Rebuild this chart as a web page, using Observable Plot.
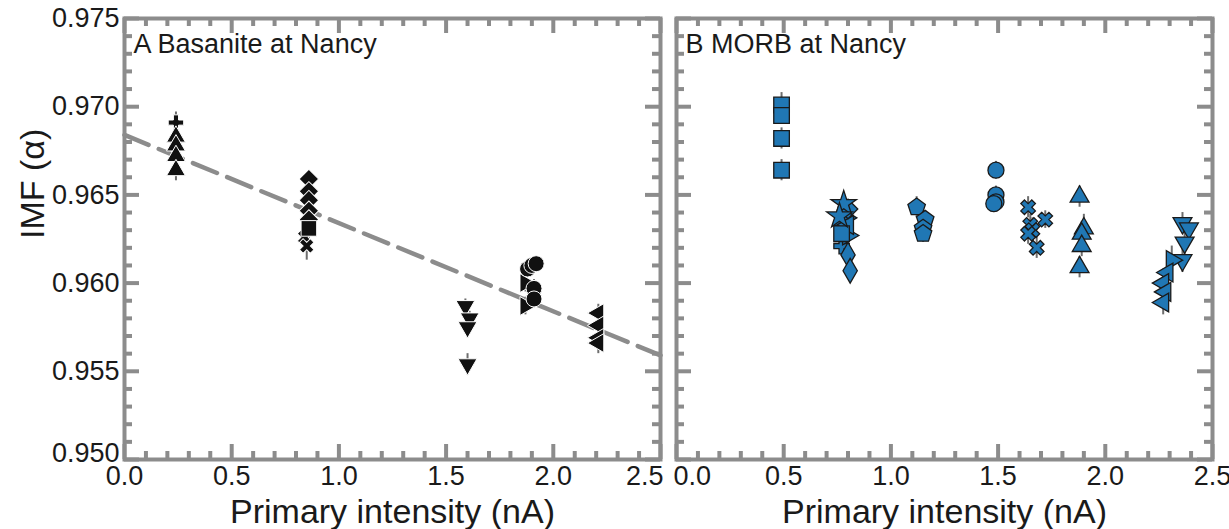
<!DOCTYPE html>
<html><head><meta charset="utf-8">
<script src="https://cdn.jsdelivr.net/npm/d3@7"></script>
<script src="https://cdn.jsdelivr.net/npm/@observablehq/plot@0.6"></script>
<style>body{margin:0;background:#fff;}</style>
</head><body><div id="chart"></div>
<script>
// ---------- data ----------
const panels = ["A", "B"];
const panelTitles = ["A Basanite at Nancy", "B MORB at Nancy"];
const xLabel = "Primary intensity (nA)";
const yLabel = "IMF (\u03b1)";
const xMajorTicks = [0, 0.5, 1.0, 1.5, 2.0, 2.5];
const xMinorTicks = [0.1, 0.2, 0.3, 0.4, 0.6, 0.7, 0.8, 0.9, 1.1, 1.2, 1.3, 1.4, 1.6, 1.7, 1.8, 1.9, 2.1, 2.2, 2.3, 2.4];
const yMajorTicks = [0.950, 0.955, 0.960, 0.965, 0.970, 0.975];
const yMinorTicks = [0.951, 0.952, 0.953, 0.954, 0.956, 0.957, 0.958, 0.959, 0.961, 0.962, 0.963, 0.964, 0.966, 0.967, 0.968, 0.969, 0.971, 0.972, 0.973, 0.974];

// Panel A: basanite
const aX = [0.24, 0.24, 0.24, 0.24, 0.24,
            0.86, 0.86, 0.86, 0.86, 0.86, 0.86, 0.84, 0.85,
            1.59, 1.61, 1.60, 1.60,
            1.87, 1.87, 1.88, 1.90, 1.92, 1.91, 1.91,
            2.21, 2.21, 2.21, 2.21];
const aY = [0.9691, 0.9683, 0.9678, 0.9672, 0.9664,
            0.9659, 0.9652, 0.9647, 0.9641, 0.9636, 0.9631, 0.9626, 0.9621,
            0.9587, 0.9580, 0.9575, 0.9554,
            0.9600, 0.9587, 0.9608, 0.9610, 0.9611, 0.9597, 0.9591,
            0.9583, 0.9576, 0.9569, 0.9566];
const aErr = [0.0006, 0.0005, 0.0004, 0.0005, 0.0006,
              0.0004, 0.0004, 0.0005, 0.0005, 0.0005, 0.0006, 0.0005, 0.0008,
              0.0004, 0.0004, 0.0006, 0.0006,
              0.0005, 0.0005, 0.0004, 0.0004, 0.0004, 0.0005, 0.0005,
              0.0005, 0.0005, 0.0005, 0.0006];
const aShape = ["plus", "triangle", "triangle", "triangle", "triangle",
                "diamond", "diamond", "diamond", "diamond", "diamond", "square", "times", "times",
                "tridown", "tridown", "tridown", "tridown",
                "triright", "triright", "circle", "circle", "circle", "circle", "circle",
                "trileft", "trileft", "trileft", "trileft"];

// Panel B: MORB
const bX = [0.49, 0.49, 0.49, 0.49,
            0.78, 0.80, 0.76, 0.79, 0.77, 0.80, 0.77, 0.80, 0.77, 0.80, 0.81,
            1.12, 1.16, 1.15, 1.15,
            1.49, 1.49, 1.49, 1.48,
            1.64, 1.72, 1.65, 1.66, 1.64, 1.68,
            1.88, 1.90, 1.89, 1.89, 1.88,
            2.31, 2.29, 2.27, 2.28, 2.27, 2.36, 2.39, 2.37, 2.36];
const bY = [0.9701, 0.9695, 0.9682, 0.9664,
            0.9645, 0.9642, 0.9638, 0.9637, 0.9634, 0.9633, 0.9628, 0.9627, 0.9621, 0.9616, 0.9607,
            0.9643, 0.9636, 0.9631, 0.9628,
            0.9664, 0.9650, 0.9646, 0.9645,
            0.9643, 0.9636, 0.9633, 0.9630, 0.9628, 0.9620,
            0.9649, 0.9631, 0.9628, 0.9621, 0.9609,
            0.9613, 0.9606, 0.9600, 0.9595, 0.9589, 0.9634, 0.9631, 0.9623, 0.9613];
const bErr = [0.0007, 0.0005, 0.0006, 0.0006,
              0.0005, 0.0005, 0.0005, 0.0005, 0.0005, 0.0005, 0.0005, 0.0005, 0.0005, 0.0005, 0.0005,
              0.0006, 0.0005, 0.0005, 0.0005,
              0.0005, 0.0005, 0.0005, 0.0005,
              0.0006, 0.0005, 0.0006, 0.0007, 0.0006, 0.0006,
              0.0006, 0.0008, 0.0007, 0.0006, 0.0006,
              0.0008, 0.0007, 0.0008, 0.0007, 0.0007, 0.0006, 0.0006, 0.0007, 0.0007];
const bShape = ["square", "square", "square", "square",
                "star", "diamond", "star", "triright", "plus", "trileft", "square", "triright", "plus", "rhombus", "rhombus",
                "pentagon", "pentagon", "pentagon", "pentagon",
                "circle", "circle", "circle", "circle",
                "times", "times", "times", "times", "times", "times",
                "triangle", "triangle", "triangle", "triangle", "triangle",
                "triright", "trileft", "trileft", "trileft", "trileft", "tridown", "tridown", "tridown", "tridown"];

// Fit line in panel A
const fitX = [0, 2.5];
const fitY = [0.9684, 0.9559];

// ---------- build ----------
const pentagon = {
  draw(ctx, size) {
    const R = Math.sqrt(size / (2.5 * Math.sin(2 * Math.PI / 5)));
    for (let i = 0; i < 5; i++) {
      const a = -Math.PI / 2 + i * 2 * Math.PI / 5;
      const px = R * Math.cos(a), py = R * Math.sin(a);
      if (i === 0) ctx.moveTo(px, py); else ctx.lineTo(px, py);
    }
    ctx.closePath();
  }
};
const SHAPES = {
  plus:     {symbol: "cross",    rotate: 0,   r: 6.5},
  times:    {symbol: "cross",    rotate: 45,  r: 6.5},
  triangle: {symbol: "triangle", rotate: 0,   r: 7},
  tridown:  {symbol: "triangle", rotate: 180, r: 7},
  triright: {symbol: "triangle", rotate: 90,  r: 7},
  trileft:  {symbol: "triangle", rotate: -90, r: 7},
  diamond:  {symbol: "square",   rotate: 45,  r: 7.8},
  rhombus:  {symbol: "diamond",  rotate: 0,   r: 7.5},
  square:   {symbol: "square",   rotate: 0,   r: 8.8},
  circle:   {symbol: "circle",   rotate: 0,   r: 8},
  star:     {symbol: "star",     rotate: 0,   r: 8},
  pentagon: {symbol: pentagon,   rotate: 0,   r: 8}
};
const PANEL_STYLE = {
  A: {fill: "#111111", stroke: "#ffffff", strokeWidth: 1},
  B: {fill: "#2077b4", stroke: "#1a1a1a", strokeWidth: 1.3}
};

const rows = [
  ...aX.map((x, i) => ({panel: "A", x, y: aY[i], e: aErr[i], shape: aShape[i]})),
  ...bX.map((x, i) => ({panel: "B", x, y: bY[i], e: bErr[i], shape: bShape[i]}))
];
const fitRows = fitX.map((x, i) => ({panel: "A", x, y: fitY[i]}));
const titleRows = panels.map((p, i) => ({panel: p, text: panelTitles[i]}));
const xTickRows = panels.flatMap(p => xMajorTicks.map((t, i) => ({panel: p, x: t, pos: i})));
const yTickRows = yMajorTicks.map((t, i) => ({panel: "A", y: t, pos: i}));
const last = xMajorTicks.length - 1;
const fmtX = d3.format(".1f");
const fmtY = d3.format(".3f");

const W = 1229, H = 529;
const mL = 124, mR = 17, mT = 18, mB = 70;
const gap = 16;
const innerW = (W - mL - mR - gap) / 2;   // 536
const innerH = H - mT - mB;               // 441
const GRAY = "#8c8c8c";
const INK = "#1a1a1a";
const TICKFONT = 27;

const dotMarks = [];
for (const p of panels) {
  for (const k of Object.keys(SHAPES)) {
    const sub = rows.filter(d => d.panel === p && d.shape === k);
    if (!sub.length) continue;
    const S = SHAPES[k];
    dotMarks.push(Plot.dot(sub, {
      x: "x", y: "y", fx: "panel",
      symbol: S.symbol, rotate: S.rotate, r: S.r,
      ...PANEL_STYLE[p]
    }));
  }
}

const xText = (filter, opts) => Plot.text(xTickRows.filter(filter), {
  x: "x", fx: "panel", text: d => fmtX(d.x), frameAnchor: "bottom", lineAnchor: "top",
  dy: 6, fontSize: TICKFONT, fill: INK, ...opts
});
const yText = (filter, opts) => Plot.text(yTickRows.filter(filter), {
  y: "y", fx: "panel", text: d => fmtY(d.y), frameAnchor: "left", textAnchor: "end",
  dx: -5, fontSize: TICKFONT, fill: INK, ...opts
});

const chart = Plot.plot({
  width: W, height: H,
  marginLeft: mL, marginRight: mR, marginTop: mT, marginBottom: mB,
  style: {fontFamily: "'Liberation Sans', Arial, Helvetica, sans-serif", fontSize: "27px", color: INK, background: "#fff", overflow: "visible"},
  fx: {domain: panels, paddingInner: gap / (innerW + gap), paddingOuter: 0, axis: null, label: null},
  x: {domain: [0, 2.5], axis: null},
  y: {domain: [0.950, 0.975], axis: null},
  marks: [
    Plot.line(fitRows, {x: "x", y: "y", fx: "panel", stroke: GRAY, strokeWidth: 4.5, strokeDasharray: "26,11"}),
    Plot.ruleX(rows, {x: "x", y1: d => d.y - d.e, y2: d => d.y + d.e, fx: "panel", stroke: "#6e6e6e", strokeWidth: 2}),
    ...dotMarks,
    // inward ticks
    Plot.tickY(yMajorTicks, {y: d => d, insetRight: innerW - 15, stroke: GRAY, strokeWidth: 4}),
    Plot.tickY(yMajorTicks, {y: d => d, insetLeft: innerW - 15, stroke: GRAY, strokeWidth: 4}),
    Plot.tickY(yMinorTicks, {y: d => d, insetRight: innerW - 8, stroke: GRAY, strokeWidth: 4}),
    Plot.tickY(yMinorTicks, {y: d => d, insetLeft: innerW - 8, stroke: GRAY, strokeWidth: 4}),
    Plot.tickX(xMajorTicks, {x: d => d, insetTop: innerH - 15, stroke: GRAY, strokeWidth: 4}),
    Plot.tickX(xMajorTicks, {x: d => d, insetBottom: innerH - 15, stroke: GRAY, strokeWidth: 4}),
    Plot.tickX(xMinorTicks, {x: d => d, insetTop: innerH - 8, stroke: GRAY, strokeWidth: 4}),
    Plot.tickX(xMinorTicks, {x: d => d, insetBottom: innerH - 8, stroke: GRAY, strokeWidth: 4}),
    Plot.frame({stroke: GRAY, strokeWidth: 4}),
    // tick labels
    yText(d => d.pos > 0, {lineAnchor: "middle"}),
    yText(d => d.pos === 0, {lineAnchor: "bottom", dy: 2}),
    xText(d => !(d.panel === "A" && d.pos === last) && !(d.panel === "B" && d.pos === 0), {}),
    xText(d => d.panel === "A" && d.pos === last, {textAnchor: "end", dx: 3}),
    xText(d => d.panel === "B" && d.pos === 0, {textAnchor: "start", dx: -3}),
    // titles / labels
    Plot.text(titleRows, {fx: "panel", text: "text", frameAnchor: "top-left", textAnchor: "start", lineAnchor: "top", dx: 9, dy: 15, fontSize: 27, fill: INK}),
    Plot.text(panels, {fx: d => d, text: () => xLabel, frameAnchor: "bottom", lineAnchor: "middle", dy: 53, fontSize: 34, fill: INK}),
    Plot.text(["A"], {fx: d => d, text: () => yLabel, frameAnchor: "left", rotate: -90, lineAnchor: "middle", dx: -91, fontSize: 34, fill: INK})
  ]
});
document.getElementById("chart").appendChild(chart);
</script>
</body></html>
